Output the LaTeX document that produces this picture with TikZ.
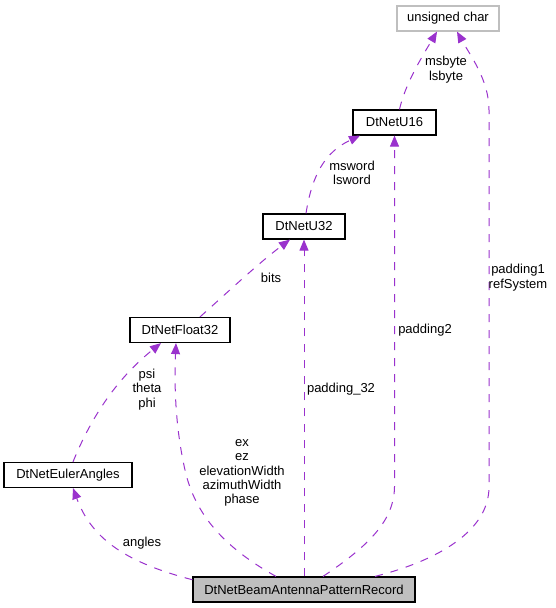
\documentclass[tikz,border=0pt]{standalone}
\usepackage{fontspec}
\setmainfont{Liberation Sans}
\usetikzlibrary{arrows.meta}
\definecolor{orchid}{HTML}{9A32CD}
\definecolor{boxgray}{HTML}{BFBFBF}
\begin{document}
\begin{tikzpicture}[x=1pt,y=-1pt,
    cls/.style={draw=black,line width=1.2pt,minimum height=25pt,inner sep=0pt,
                font=\fontsize{13}{14.4}\selectfont},
    member/.style={draw=orchid,line width=1pt,dash pattern=on 8pt off 8pt,
                   -{Triangle[length=11pt,width=9pt]}},
    lbl/.style={align=center,inner sep=0pt,font=\fontsize{13}{14.4}\selectfont}]
  \useasboundingbox (0,0) rectangle (556,608);
  % classes
  \node[cls,draw=boxgray,minimum width=102pt] (uchar) at (448,18.5) {unsigned char};
  \node[cls,minimum width=83pt]  (u16)   at (394.5,122.5) {DtNetU16};
  \node[cls,minimum width=82pt]  (u32)   at (304,226.5)   {DtNetU32};
  \node[cls,minimum width=100pt] (float) at (180,330)     {DtNetFloat32};
  \node[cls,minimum width=128pt] (euler) at (68,475)      {DtNetEulerAngles};
  \node[cls,fill=boxgray,minimum width=222pt] (rec) at (304,589.5) {DtNetBeamAntennaPatternRecord};
  % members
  \draw[member] (rec.175) .. controls (128,563) and (92,540) .. ([xshift=5]euler.south);
  \draw[member] ([xshift=-28]rec.north) .. controls (225,548) and (195,515) .. (185,470)
                .. controls (176,430) and (174,390) .. ([xshift=-4]float.south);
  \draw[member] (rec.north) -- (u32.south);
  \draw[member] ([xshift=19]rec.north) .. controls (370,545) and (394,520) .. (394.5,487)
                -- (u16.south);
  \draw[member] ([xshift=71]rec.north) .. controls (440,560) and (489,530) .. (489,487)
                -- (489,110) .. controls (489,80) and (470,55) .. ([xshift=9]uchar.south);
  \draw[member] ([xshift=5]euler.north) .. controls (90,420) and (115,380) .. ([xshift=-19]float.south);
  \draw[member] ([xshift=20]float.north) .. controls (230,290) and (260,262) .. ([xshift=-14]u32.south);
  \draw[member] ([xshift=2]u32.north) .. controls (312,175) and (325,152) .. ([xshift=-34.5]u16.south);
  \draw[member] ([xshift=5]u16.north) .. controls (405,85) and (420,60) .. ([xshift=-11]uchar.south);
  % labels
  \node[lbl] (l-angles) at (142,543)   {angles};
  \node[lbl] (l-ex)     at (242,473)   {ex\\ez\\elevationWidth\\azimuthWidth\\phase};
  \node[lbl] (l-pad32)  at (341,389)   {padding\_32};
  \node[lbl] (l-pad2)   at (425,330)   {padding2};
  \node[lbl] (l-pad1)   at (518,277.5) {padding1\\refSystem};
  \node[lbl] (l-psi)    at (147,389.5) {psi\\theta\\phi};
  \node[lbl] (l-bits)   at (271,278)   {bits};
  \node[lbl] (l-msword) at (352,173)   {msword\\lsword};
  \node[lbl] (l-msbyte) at (446,69.5)  {msbyte\\lsbyte};
\end{tikzpicture}
\end{document}
